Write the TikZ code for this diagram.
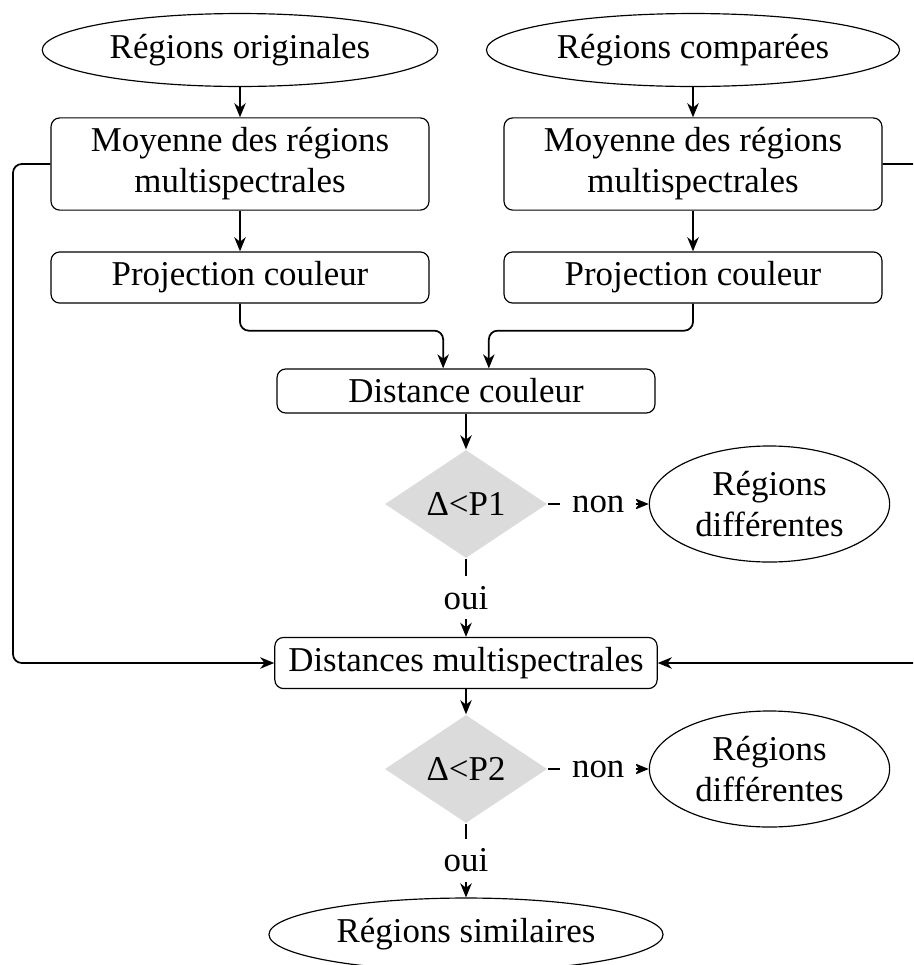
\documentclass[tikz,border=0pt]{standalone}
\usepackage{fontspec}
\setmainfont{Liberation Serif}
\usepackage{tikz}
\usetikzlibrary{arrows.meta,positioning,shapes.geometric}

\begin{document}
\begin{tikzpicture}[x=0.3413pt, y=-0.3413pt,
  font=\fontsize{11.9}{14}\selectfont,
  >={Stealth[length=4.8pt,width=3.9pt,inset=1.5pt]},
  boite/.style={draw, thin, rounded corners=3pt, minimum width=129pt, align=center},
  bulle/.style={draw, thin, ellipse, align=center, inner sep=1pt},
  test/.style={diamond, aspect=1.5, fill=black!14, minimum width=54.6pt, minimum height=36.9pt},
  fleche/.style={->, semithick},
  reponse/.style={fill=white, inner xsep=4pt}]
  \useasboundingbox (0,0) rectangle (913,965);
  \clip (0,0) rectangle (913,965);

  % Define nodes
  \node (origG) at (240,50) [bulle, minimum width=135pt, minimum height=24.9pt] {Régions originales};
  \node (compD) at (693,50) [bulle, minimum width=141pt, minimum height=24.9pt] {Régions comparées};
  \node (moyG) at (240,164) [boite, minimum height=30.7pt] {Moyenne des régions\\multispectrales};
  \node (moyD) at (693,164) [boite, minimum height=30.7pt] {Moyenne des régions\\multispectrales};
  \node (projG) at (240,277.5) [boite, minimum height=17.4pt] {Projection couleur};
  \node (projD) at (693,277.5) [boite, minimum height=17.4pt] {Projection couleur};
  \node (distC) at (466,391) [boite, minimum height=15pt] {Distance couleur};
  \node (test1) at (466,504) [test] {Δ<P1};
  \node (diff1) at (769.5,504) [bulle, minimum width=82pt, minimum height=39.6pt] {Régions\\différentes};
  \node (distMS) at (466,663) [boite, minimum width=130.5pt, minimum height=17.4pt] {Distances multispectrales};
  \node (test2) at (466,769) [test] {Δ<P2};
  \node (diff2) at (769.5,769) [bulle, minimum width=82pt, minimum height=39.6pt] {Régions\\différentes};
  \node (simil) at (466,934.5) [bulle, minimum width=134.5pt, minimum height=24.9pt] {Régions similaires};
  \coordinate (gauche) at (13,400);
  \coordinate (droite) at (935,400);

  % Draw arrows
  \draw[fleche] (origG) -- (moyG);
  \draw[fleche] (compD) -- (moyD);
  \draw[fleche] (moyG) -- (projG);
  \draw[fleche] (moyD) -- (projD);
  \draw[fleche, rounded corners=3pt] (projG.south) -- ++(0,27) -| ([xshift=-7.8pt]distC.north);
  \draw[fleche, rounded corners=3pt] (projD.south) -- ++(0,27) -| ([xshift=7.8pt]distC.north);
  \draw[fleche] (distC) -- (test1);
  \draw[fleche] (test1) -- node[reponse] {non} (diff1);
  \draw[fleche] (test1) -- node[reponse] {oui} (distMS);
  \draw[fleche] (distMS) -- (test2);
  \draw[fleche] (test2) -- node[reponse] {non} (diff2);
  \draw[fleche] (test2) -- node[reponse] {oui} (simil);

  % Bypass to the multispectral distances
  \draw[fleche, rounded corners=3pt] (moyG.west) -| (gauche) |- (distMS.west);
  \draw[fleche, rounded corners=3pt] (moyD.east) -| (droite) |- (distMS.east);
\end{tikzpicture}
\end{document}
